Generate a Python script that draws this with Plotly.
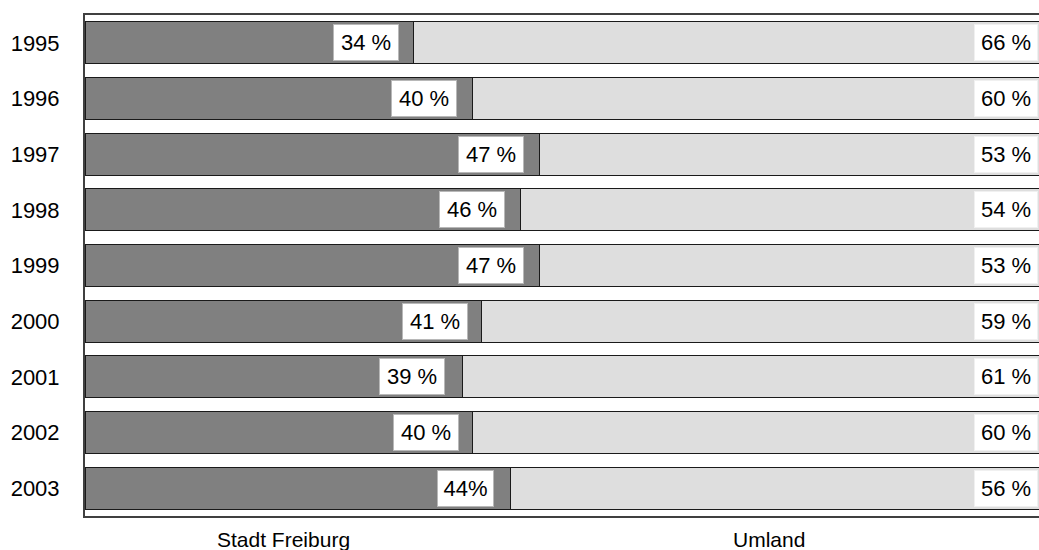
import plotly.graph_objects as go

years = ["1995", "1996", "1997", "1998", "1999", "2000", "2001", "2002", "2003"]
stadt = [34, 40, 47, 45, 47, 41, 39, 40, 44]
umland = [66, 60, 53, 55, 53, 59, 61, 60, 56]
stadt_labels = ["34 %", "40 %", "47 %", "46 %", "47 %", "41 %", "39 %", "40 %", "44%"]
umland_labels = ["66 %", "60 %", "53 %", "54 %", "53 %", "59 %", "61 %", "60 %", "56 %"]
label_shift = [-15, -15, -16, -15, -16, -14, -17, -13, -17]

FONT = "Arial, Liberation Sans, Helvetica, sans-serif"
L = 85
W = 1039 - L

fig = go.Figure()
fig.add_trace(go.Bar(
    y=years, x=stadt, orientation="h", name="Stadt Freiburg",
    marker=dict(color="#808080", line=dict(color="#1a1a1a", width=1)),
    hoverinfo="skip",
))
fig.add_trace(go.Bar(
    y=years, x=umland, orientation="h", name="Umland",
    marker=dict(color="#dedede", line=dict(color="#1a1a1a", width=1)),
    hoverinfo="skip",
))

annotations = []
for i, (v, lab, sh) in enumerate(zip(stadt, stadt_labels, label_shift)):
    annotations.append(dict(
        x=v, y=i, xref="x", yref="y", text=lab, showarrow=False,
        xanchor="right", yanchor="middle", xshift=sh,
        width=54 if " " in lab else 45, align="center",
        bgcolor="white", bordercolor="#b8b8b8", borderwidth=1, borderpad=5,
        font=dict(family=FONT, size=22, color="black"),
    ))
for i, lab in enumerate(umland_labels):
    annotations.append(dict(
        x=1, y=i, xref="paper", yref="y", text=lab, showarrow=False,
        xanchor="right", yanchor="middle", xshift=-1,
        width=52, align="center",
        bgcolor="white", bordercolor="#f0f0f0", borderwidth=1, borderpad=5,
        font=dict(family=FONT, size=22, color="black"),
    ))
# category captions below the chart
for txt, px in [("Stadt Freiburg", 283), ("Umland", 768.5)]:
    annotations.append(dict(
        x=(px - L) / W, y=-0.046, xref="paper", yref="paper", text=txt, showarrow=False,
        xanchor="center", yanchor="middle",
        font=dict(family=FONT, size=21, color="black"),
    ))

fig.update_layout(
    width=1039, height=550,
    margin=dict(l=L, r=0, t=15, b=34, pad=0),
    barmode="stack", bargap=0.25,
    plot_bgcolor="white", paper_bgcolor="white",
    showlegend=False,
    annotations=annotations,
    font=dict(family=FONT, size=22, color="black"),
    xaxis=dict(range=[0, 98.6], showgrid=False, zeroline=False, showticklabels=False,
               showline=True, linecolor="#404040", linewidth=2, mirror=True, ticks=""),
    yaxis=dict(type="category", categoryorder="array", categoryarray=years,
               range=[8.5, -0.5], showgrid=False, zeroline=False,
               showline=True, linecolor="#404040", linewidth=2, mirror=False,
               ticks="", ticklabelstandoff=19,
               tickfont=dict(family=FONT, size=22, color="black")),
)

fig.write_html(
    "out.html",
    config={"displayModeBar": False},
    post_script="document.body.style.margin='0px';document.body.style.overflow='hidden';",
)
